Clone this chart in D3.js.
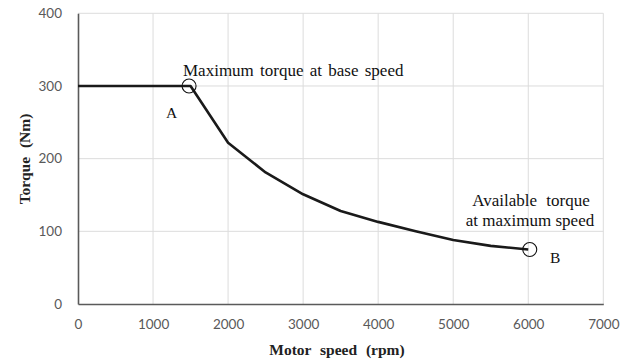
<!DOCTYPE html>
<html><head><meta charset="utf-8">
<script src="https://cdn.jsdelivr.net/npm/d3@7"></script>
<style>body{margin:0;background:#fff}</style>
</head><body>
<svg id="c" width="628" height="363"></svg>
<script>
const speed = [0, 500, 1000, 1500, 2000, 2500, 3000, 3500, 4000, 4500, 5000, 5500, 6000];
const torque = [300, 300, 300, 300, 222, 181, 151, 128, 113, 100, 88, 80, 75];
const xTicks = [0, 1000, 2000, 3000, 4000, 5000, 6000, 7000];
const yTicks = [0, 100, 200, 300, 400];
const markers = [{x: 1480, y: 300, label: "A"}, {x: 6020, y: 75, label: "B"}];

const svg = d3.select("#c");
const m = {l: 78, r: 603.3, t: 13.3, b: 304};
const x = d3.scaleLinear().domain([0, 7000]).range([m.l, m.r]);
const y = d3.scaleLinear().domain([0, 400]).range([m.b, m.t]);

// grid
svg.append("g").selectAll("line").data(xTicks.slice(1)).join("line")
  .attr("x1", d => x(d)).attr("x2", d => x(d)).attr("y1", y(0)).attr("y2", y(400))
  .attr("stroke", "#dcdcdc").attr("stroke-width", 1);
svg.append("g").selectAll("line").data(yTicks.slice(1)).join("line")
  .attr("x1", x(0)).attr("x2", x(7000)).attr("y1", d => y(d)).attr("y2", d => y(d))
  .attr("stroke", "#dcdcdc").attr("stroke-width", 1);

// axes
const xa = svg.append("g").attr("transform", `translate(0,${y(0)})`)
  .call(d3.axisBottom(x).tickValues(xTicks).tickSize(0).tickPadding(15).tickFormat(d3.format("d")));
const ya = svg.append("g").attr("transform", `translate(${x(0)},0)`)
  .call(d3.axisLeft(y).tickValues(yTicks).tickSize(0).tickPadding(16).tickFormat(d3.format("d")));
[xa, ya].forEach(a => {
  a.select(".domain").attr("stroke", "#5a5a5a").attr("stroke-width", 1.6);
  a.selectAll("text").attr("fill", "#595959").attr("font-family", "Lato, 'Open Sans', sans-serif").attr("font-size", 13.5);
});

// curve
const pts = speed.map((s, i) => [s, torque[i]]);
svg.append("path").datum(pts)
  .attr("d", d3.line().x(d => x(d[0])).y(d => y(d[1])))
  .attr("fill", "none").attr("stroke", "#1a1a1a").attr("stroke-width", 2.6).attr("stroke-linejoin", "round");

// markers
svg.append("g").selectAll("circle").data(markers).join("circle")
  .attr("cx", d => x(d.x)).attr("cy", d => y(d.y))
  .attr("r", 7).attr("fill", "none").attr("stroke", "#111").attr("stroke-width", 1.1);

const serif = "'Liberation Serif', 'DejaVu Serif', serif";
const ann = svg.append("g").attr("font-family", serif).attr("fill", "#111").attr("font-size", 17);
ann.append("text").attr("x", 183).attr("y", 76).attr("word-spacing", 2).text("Maximum torque at base speed");
ann.append("text").attr("x", 166).attr("y", 118).attr("font-size", 15.5).text("A");
ann.append("text").attr("x", 550).attr("y", 263).attr("font-size", 15.5).text("B");
ann.append("text").attr("x", 531).attr("y", 206).attr("text-anchor", "middle").attr("word-spacing", 5).text("Available torque");
ann.append("text").attr("x", 530).attr("y", 226).attr("text-anchor", "middle").text("at maximum speed");

// axis titles
svg.append("text").attr("x", 337).attr("y", 355).attr("text-anchor", "middle")
  .attr("font-family", serif).attr("font-weight", "bold").attr("font-size", 15.5).attr("fill", "#222")
  .attr("word-spacing", 5).text("Motor speed (rpm)");
svg.append("text").attr("transform", "translate(30,159) rotate(-90)").attr("text-anchor", "middle")
  .attr("font-family", serif).attr("font-weight", "bold").attr("font-size", 15.5).attr("fill", "#222")
  .attr("word-spacing", 5).text("Torque (Nm)");
</script>
</body></html>
